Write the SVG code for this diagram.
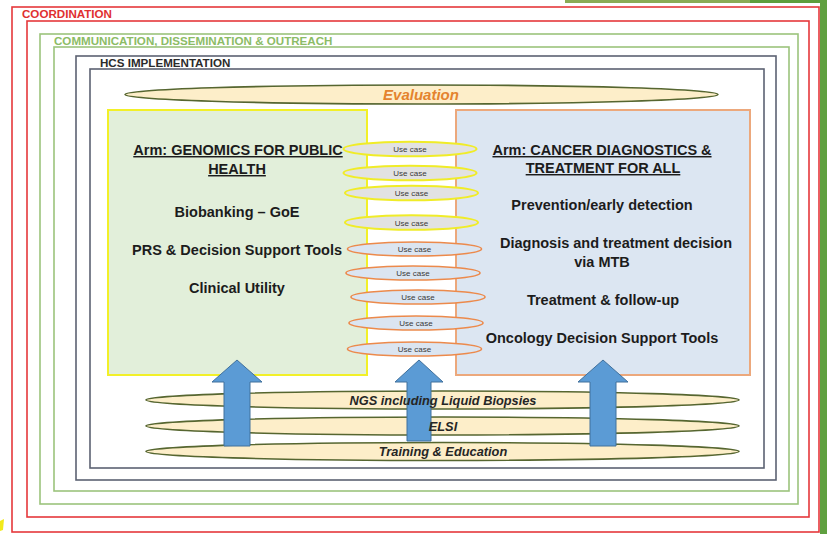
<svg xmlns="http://www.w3.org/2000/svg" width="827" height="534" viewBox="0 0 827 534">
<style>
.frame-red{fill:none;stroke:#e5383b;stroke-width:1.6}
.frame-green{fill:none;stroke:#9cc47c;stroke-width:1.6}
.frame-gray{fill:none;stroke:#5c6272;stroke-width:1.6}
.lbl{font-family:"Liberation Sans",Arial,sans-serif;font-weight:bold;font-size:11.6px}
.bt{font-family:"Liberation Sans",Arial,sans-serif;font-weight:bold;font-size:14.5px;fill:#1c1c1c;text-anchor:middle}
.uc{font-family:"Liberation Sans",Arial,sans-serif;font-size:8px;fill:#3a3a3a;text-anchor:middle}
.band{fill:#fdeec9;stroke:#566630;stroke-width:1.6}
.bandt{font-family:"Liberation Sans",Arial,sans-serif;font-weight:bold;font-style:italic;font-size:12.8px;fill:#262626;text-anchor:middle}
.ucy{fill:#e2e2e2;stroke:#f0ec28;stroke-width:2}
.uco{fill:#dbe5f1;stroke:#ec8a4c;stroke-width:1.6}
.arrow{fill:#5b9bd5;stroke:#41719c;stroke-width:1}
</style>
<rect x="0" y="0" width="827" height="534" fill="#ffffff"/>
<rect x="565" y="0" width="190" height="3" fill="#8aab55"/>
<rect x="750" y="0" width="77" height="3" fill="#5e9e3c"/>
<rect x="820" y="0" width="7" height="534" fill="#5fa040"/>
<polygon points="0,521 4,519 3,530 0,531" fill="#f2ea1a"/>

<g id="coordination">
<rect class="frame-red" x="12" y="7" width="807" height="525"/>
<rect class="frame-red" x="27" y="21" width="782" height="496"/>
<text class="lbl" x="22" y="18" fill="#e03030">COORDINATION</text>
</g>
<g id="communication">
<rect class="frame-green" x="40" y="34" width="758" height="470"/>
<rect class="frame-green" x="54" y="47" width="735" height="444"/>
<text class="lbl" x="54" y="44.5" fill="#8cbc66">COMMUNICATION, DISSEMINATION &amp; OUTREACH</text>
</g>
<g id="hcs-implementation">
<rect class="frame-gray" x="76" y="56" width="700" height="424"/>
<rect class="frame-gray" x="90" y="69" width="674" height="399"/>
<text class="lbl" x="100" y="67" fill="#2b2b2b">HCS IMPLEMENTATION</text>
</g>

<g id="evaluation">
<ellipse class="band" cx="421.5" cy="94.5" rx="296.5" ry="9.5"/>
<text x="421" y="100" font-family="Liberation Sans, Arial, sans-serif" font-weight="bold" font-style="italic" font-size="15" fill="#e4832e" text-anchor="middle">Evaluation</text>
</g>

<g id="arm-genomics">
<rect x="108" y="110" width="259" height="265" fill="#e2efda" stroke="#f2f028" stroke-width="2"/>
<text class="bt" x="238" y="155" text-decoration="underline">Arm: GENOMICS FOR PUBLIC</text>
<text class="bt" x="237" y="174" text-decoration="underline">HEALTH</text>
<text class="bt" x="237" y="217">Biobanking – GoE</text>
<text class="bt" x="237" y="255">PRS &amp; Decision Support Tools</text>
<text class="bt" x="237" y="293">Clinical Utility</text>
</g>

<g id="arm-cancer">
<rect x="456" y="110" width="294" height="265" fill="#dce6f2" stroke="#eca87c" stroke-width="2"/>
<text class="bt" x="602" y="155" text-decoration="underline">Arm: CANCER DIAGNOSTICS &amp;</text>
<text class="bt" x="603" y="173" text-decoration="underline">TREATMENT FOR ALL</text>
<text class="bt" x="602" y="210">Prevention/early detection</text>
<text class="bt" x="616" y="248">Diagnosis and treatment decision</text>
<text class="bt" x="602" y="267">via MTB</text>
<text class="bt" x="603" y="305">Treatment &amp; follow-up</text>
<text class="bt" x="602" y="343">Oncology Decision Support Tools</text>
</g>

<g id="use-case-1"><ellipse class="ucy" cx="410" cy="149" rx="66.5" ry="7.3"/><text class="uc" x="410" y="152">Use case</text></g>
<g id="use-case-2"><ellipse class="ucy" cx="410" cy="173" rx="66.5" ry="7.3"/><text class="uc" x="410" y="176">Use case</text></g>
<g id="use-case-3"><ellipse class="ucy" cx="411.5" cy="193" rx="66.5" ry="7.3"/><text class="uc" x="411.5" y="196">Use case</text></g>
<g id="use-case-4"><ellipse class="ucy" cx="411.5" cy="222.5" rx="66.5" ry="7.3"/><text class="uc" x="411.5" y="225.5">Use case</text></g>
<g id="use-case-5"><ellipse class="uco" cx="414.5" cy="249" rx="67" ry="7"/><text class="uc" x="414.5" y="252">Use case</text></g>
<g id="use-case-6"><ellipse class="uco" cx="413" cy="273" rx="67" ry="7"/><text class="uc" x="413" y="276">Use case</text></g>
<g id="use-case-7"><ellipse class="uco" cx="418" cy="297" rx="67" ry="7"/><text class="uc" x="418" y="300">Use case</text></g>
<g id="use-case-8"><ellipse class="uco" cx="416" cy="323" rx="67" ry="7"/><text class="uc" x="416" y="326">Use case</text></g>
<g id="use-case-9"><ellipse class="uco" cx="414.5" cy="349" rx="67" ry="7"/><text class="uc" x="414.5" y="352">Use case</text></g>

<g id="ngs"><ellipse class="band" cx="442.5" cy="400" rx="296.5" ry="9"/></g>
<g id="elsi"><ellipse class="band" cx="442.5" cy="426" rx="296.5" ry="9"/></g>
<g id="training"><ellipse class="band" cx="442.5" cy="451.5" rx="296.5" ry="9"/></g>

<g id="connectors">
<polygon class="arrow" points="237,360 262,382 250,382 250,446 224,446 224,382 212,382"/>
<polygon class="arrow" points="419,360 443,382 431,382 431,441 407,441 407,382 395,382"/>
<polygon class="arrow" points="603,360 628,382 616,382 616,446 590,446 590,382 578,382"/>
</g>

<g id="band-labels">
<text class="bandt" x="443" y="405">NGS including Liquid Biopsies</text>
<text class="bandt" x="443" y="431">ELSI</text>
<text class="bandt" x="443" y="456">Training &amp; Education</text>
</g>
</svg>
